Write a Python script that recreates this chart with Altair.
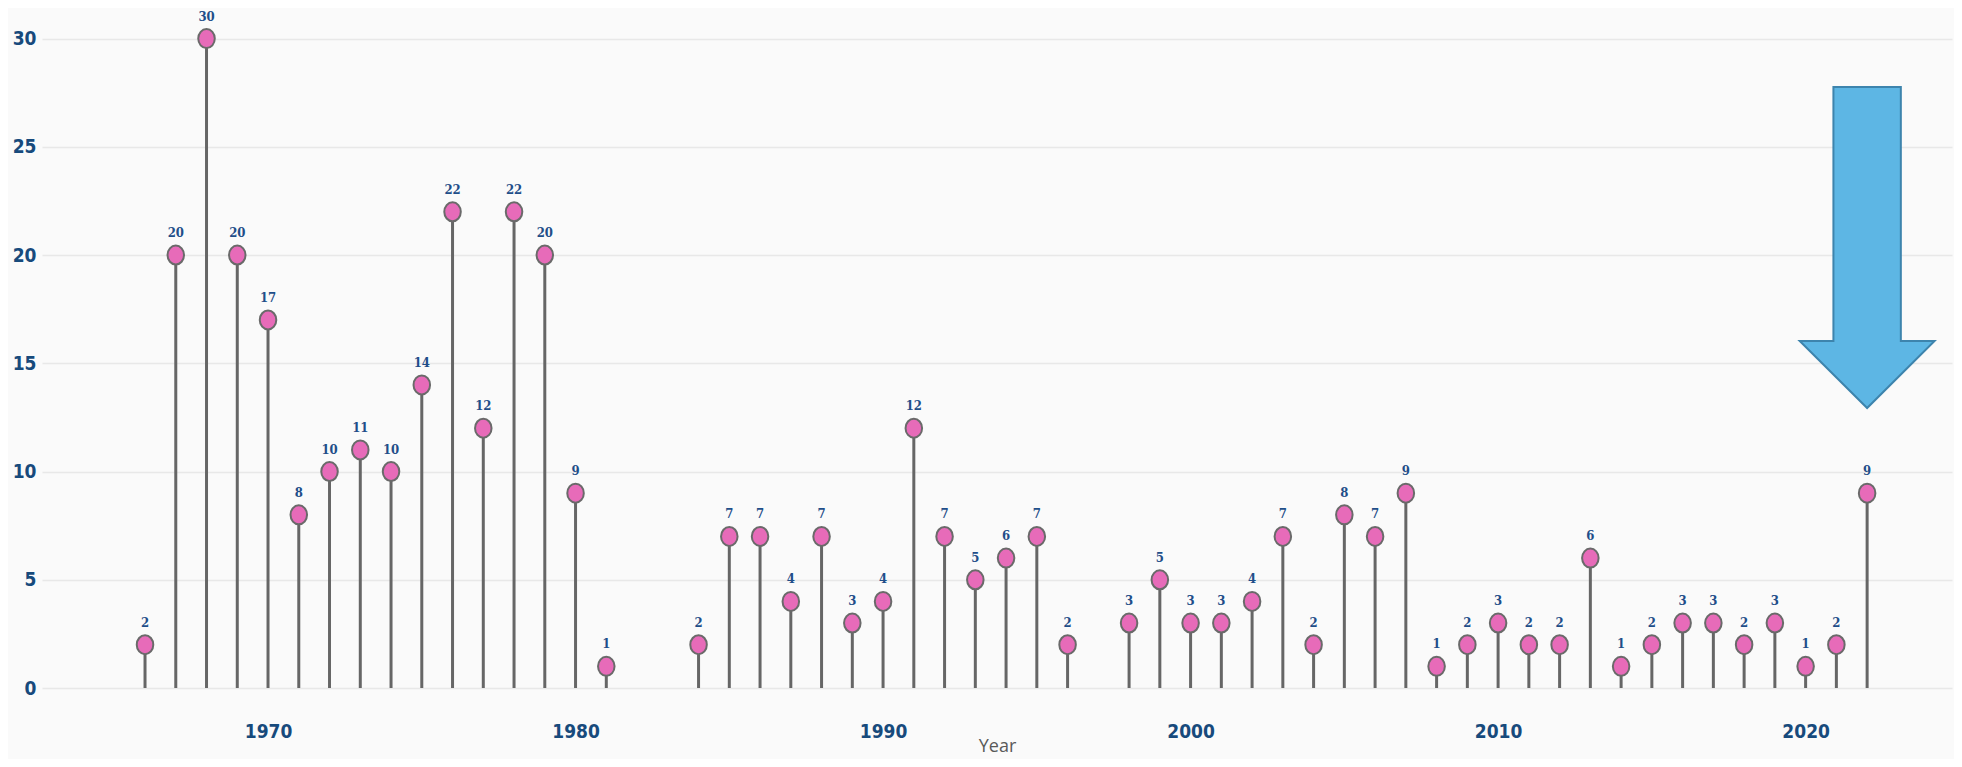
import altair as alt
import pandas as pd

years = [1966, 1967, 1968, 1969, 1970, 1971, 1972, 1973, 1974, 1975, 1976, 1977, 1978, 1979, 1980, 1981,
         1984, 1985, 1986, 1987, 1988, 1989, 1990, 1991, 1992, 1993, 1994, 1995, 1996,
         1998, 1999, 2000, 2001, 2002, 2003, 2004, 2005, 2006, 2007, 2008, 2009, 2010, 2011, 2012,
         2013, 2014, 2015, 2016, 2017, 2018, 2019, 2020, 2021, 2022]
counts = [2, 20, 30, 20, 17, 8, 10, 11, 10, 14, 22, 12, 22, 20, 9, 1,
          2, 7, 7, 4, 7, 3, 4, 12, 7, 5, 6, 7, 2,
          3, 5, 3, 3, 4, 7, 2, 8, 7, 9, 1, 2, 3, 2, 2,
          6, 1, 2, 3, 3, 2, 3, 1, 2, 9]
x_ticks = [1970, 1980, 1990, 2000, 2010, 2020]
y_ticks = [0, 5, 10, 15, 20, 25, 30]

# annotation arrow anchor (data coords)
arrow_year = [2022]
arrow_value = [20.35]

df = pd.DataFrame({"Year": years, "Count": counts})
arrow_df = pd.DataFrame({"Year": arrow_year, "Count": arrow_value})

xscale = alt.Scale(domain=[1962.65, 2024.76], nice=False, zero=False)
yscale = alt.Scale(domain=[0, 31.32], nice=False)

x_enc = alt.X("Year:Q", scale=xscale,
              axis=alt.Axis(values=x_ticks, format="d", grid=False, ticks=False, domain=False,
                            labelFont="DejaVu Sans Condensed", labelFontWeight="bold",
                            labelFontSize=19, labelColor="#174a7c", labelPadding=34,
                            title="Year", titleFont="Open Sans", titleFontWeight="normal",
                            titleFontSize=18, titleColor="#595959",
                            titleY=63, titleBaseline="alphabetic"))
y_enc = alt.Y("Count:Q", scale=yscale,
              axis=alt.Axis(values=y_ticks, title=None, grid=True, gridColor="#e8e8e8",
                            gridWidth=1.5, ticks=False, domain=False,
                            labelFont="DejaVu Sans Condensed", labelFontWeight="bold",
                            labelFontSize=19, labelColor="#174a7c", labelPadding=6))

base = alt.Chart(df)

stems = base.mark_rule(color="#666666", strokeWidth=3).encode(
    x=x_enc, y=y_enc, y2=alt.datum(0)
)

ellipse = "M0,-1 A0.87,1 0 1,1 0,1 A0.87,1 0 1,1 0,-1 Z"
dots = base.mark_point(shape=ellipse, filled=True, fill="#e76bb9", stroke="#6a6a6a",
                       strokeWidth=2, size=361, opacity=1).encode(x="Year:Q", y="Count:Q")

labels = base.mark_text(dy=-22, font="DejaVu Serif Condensed", fontWeight="bold", fontSize=13,
                        color="#1f4e89").encode(x="Year:Q", y="Count:Q", text="Count:Q")

arrow_path = "M-0.21,-1 L0.21,-1 L0.21,0.583 L0.42,0.583 L0,1 L-0.42,0.583 L-0.21,0.583 Z"
arrow = alt.Chart(arrow_df).mark_point(shape=arrow_path, filled=True, fill="#5db6e4",
                                       stroke="#3d84ad", strokeWidth=2, size=103041,
                                       opacity=1).encode(x="Year:Q", y="Count:Q")

chart = alt.layer(stems, dots, labels, arrow).properties(
    width=1910, height=678,
    autosize=alt.AutoSizeParams(type="none"),
    padding={"left": 34, "top": 2, "right": 2, "bottom": 71},
    background="#fafafa"
).configure_view(stroke=None)

chart.save("out.html", embed_options={"renderer": "svg", "actions": False})
